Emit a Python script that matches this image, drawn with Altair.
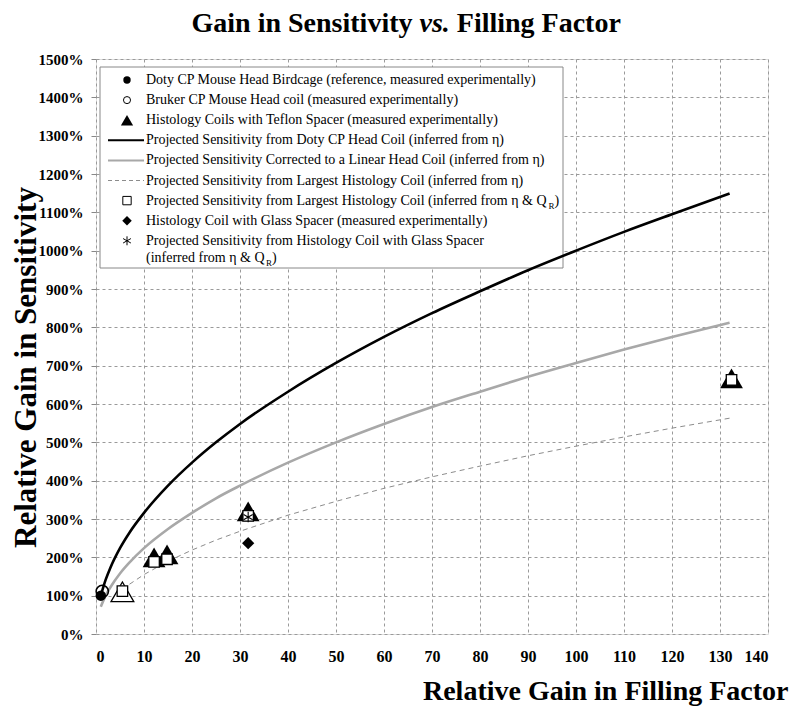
import altair as alt
import pandas as pd

# ---------------- data ----------------
curve_x = [1, 2, 3, 5, 7, 10, 15, 20, 25, 30, 40, 50, 60, 70, 80, 90, 100, 110, 120, 132]
doty_proj = [100, 141, 173, 224, 265, 316, 387, 447, 500, 548, 632, 707, 775, 837, 894, 949, 1000, 1049, 1095, 1149]
linear_proj = [71, 100, 122, 158, 187, 224, 274, 316, 354, 387, 447, 500, 548, 592, 632, 671, 707, 742, 775, 812]
hist_x = [5.5, 7, 10, 15, 20, 25, 30, 40, 50, 60, 70, 80, 90, 100, 110, 120, 132]
hist_proj = [115, 130, 155, 190, 219, 245, 268, 310, 346, 380, 410, 438, 465, 490, 514, 537, 563]

doty_x = [1.0]
doty_y = [100]
bruker_x = [1.3]
bruker_y = [111]
teflon_x = [12.1, 14.8, 31.7, 132.4]
teflon_y = [200, 208, 320, 667]
teflon_ref_x = [5.5]
teflon_ref_y = [110]
square_x = [5.5, 12.1, 14.8, 31.7, 132.4]
square_y = [112, 188, 195, 308, 663]
glass_x = [31.7]
glass_y = [237]
glass_proj_x = [31.7]
glass_proj_y = [305]

x_ticks = list(range(0, 141, 10))
y_ticks = list(range(0, 1501, 100))

legend_labels = [
    "Doty CP Mouse Head Birdcage (reference, measured experimentally)",
    "Bruker CP Mouse Head coil (measured experimentally)",
    "Histology Coils with Teflon Spacer (measured experimentally)",
    "Projected Sensitivity from Doty CP Head Coil (inferred from \u03b7)",
    "Projected Sensitivity Corrected to a Linear Head Coil (inferred from \u03b7)",
    "Projected Sensitivity from Largest Histology Coil (inferred from \u03b7)",
    "Projected Sensitivity from Largest Histology Coil (inferred from \u03b7 & Q",
    "Histology Coil with Glass Spacer (measured experimentally)",
    "Projected Sensitivity from Histology Coil with Glass Spacer",
]
legend_extra = "(inferred from \u03b7 & Q"

# ---------------- styling ----------------
SERIF = "Liberation Serif"
W, H = 672, 575
ASTERISK = "M0,-1L0,1M-0.87,-0.5L0.87,0.5M-0.87,0.5L0.87,-0.5"

def X():
    return alt.X("x:Q", scale=alt.Scale(domain=[0, 140], nice=False, zero=False),
                 axis=alt.Axis(values=x_ticks, title="Relative Gain in Filling Factor",
                               labelFont=SERIF, labelFontWeight="bold", labelFontSize=16,
                               labelColor="black", labelPadding=14, tickSize=0,
                               grid=True, gridColor="#9a9a9a", gridDash=[3, 3], domain=False,
                               titleFont=SERIF, titleFontSize=28, titleFontWeight="bold",
                               titleColor="black", titleX=692, titleY=65, titleAlign="right",
                               titleBaseline="alphabetic"))

def Y():
    return alt.Y("y:Q", scale=alt.Scale(domain=[0, 1500], nice=False),
                 axis=alt.Axis(values=y_ticks, labelExpr="datum.value + '%'",
                               title="Relative Gain in Sensitivity",
                               labelFont=SERIF, labelFontWeight="bold", labelFontSize=15,
                               labelColor="black", labelPadding=8, tickSize=5, tickColor="#888",
                               grid=True, gridColor="#9a9a9a", gridDash=[3, 3], domain=False,
                               titleFont=SERIF, titleFontSize=31, titleFontWeight="bold",
                               titleColor="black", titleAngle=270, titleX=-70, titleY=308,
                               titleAlign="center", titleBaseline="middle"))

def df(xs, ys):
    return pd.DataFrame({"x": xs, "y": ys})

one = pd.DataFrame({"k": [0]})

layers = []

# legend box (under curves, above grid)
layers.append(alt.Chart(one).mark_rect(fill="white", stroke="#888", strokeWidth=1).encode(
    x=alt.value(4), x2=alt.value(467), y=alt.value(8), y2=alt.value(209)))

# curves
layers.append(alt.Chart(df(hist_x, hist_proj)).mark_line(color="#8c8c8c", strokeWidth=1,
              strokeDash=[5, 4]).encode(x=X(), y=Y()))
layers.append(alt.Chart(df(curve_x, linear_proj)).mark_line(color="#a8a8a8", strokeWidth=2.6,
              interpolate="monotone").encode(x=X(), y=Y()))
layers.append(alt.Chart(df(curve_x, doty_proj)).mark_line(color="black", strokeWidth=2.6,
              interpolate="monotone").encode(x=X(), y=Y()))

# points
layers.append(alt.Chart(df(doty_x, doty_y)).mark_point(shape="circle", filled=True, fill="black",
              size=110, opacity=1).encode(x=X(), y=Y()))
layers.append(alt.Chart(df(bruker_x, bruker_y)).mark_point(shape="circle", filled=False, stroke="black",
              strokeWidth=1.5, size=150, opacity=1).encode(x=X(), y=Y()))
layers.append(alt.Chart(df(teflon_ref_x, teflon_ref_y)).mark_point(shape="triangle-up", filled=True,
              fill="white", stroke="black", strokeWidth=1.3, size=520, opacity=1).encode(x=X(), y=Y()))
layers.append(alt.Chart(df(teflon_x, teflon_y)).mark_point(shape="triangle-up", filled=True,
              fill="black", size=520, opacity=1).encode(x=X(), y=Y()))
layers.append(alt.Chart(df(square_x, square_y)).mark_point(shape="square", filled=True, fill="white",
              stroke="black", strokeWidth=1.3, size=110, opacity=1).encode(x=X(), y=Y()))
layers.append(alt.Chart(df(glass_x, glass_y)).mark_point(shape="diamond", filled=True, fill="black",
              size=150, opacity=1).encode(x=X(), y=Y()))
layers.append(alt.Chart(df(glass_proj_x, glass_proj_y)).mark_point(shape=ASTERISK, filled=False,
              stroke="black", strokeWidth=1.1, size=110, opacity=1).encode(x=X(), y=Y()))

# ---------------- legend contents ----------------
ROW0, ROWSTEP = 21, 20.1
SYM_X, TXT_X = 31, 50

def ly(i):
    return ROW0 + i * ROWSTEP

def txt(text, x, y, size=14, **kw):
    return alt.Chart(one).mark_text(text=text, align="left", baseline="middle", font=SERIF,
                                    fontSize=size, color="black", **kw).encode(
        x=alt.value(x), y=alt.value(y))

def sym(i, **kw):
    return alt.Chart(one).mark_point(opacity=1, **kw).encode(x=alt.value(SYM_X), y=alt.value(ly(i)))

def seg(i, **kw):
    return alt.Chart(one).mark_rule(**kw).encode(x=alt.value(12), x2=alt.value(48), y=alt.value(ly(i)))

layers.append(sym(0, shape="circle", filled=True, fill="black", size=55))
layers.append(sym(1, shape="circle", filled=False, stroke="black", strokeWidth=1, size=50))
layers.append(sym(2, shape="triangle-up", filled=True, fill="black", size=150))
layers.append(seg(3, color="black", strokeWidth=2))
layers.append(seg(4, color="#a8a8a8", strokeWidth=2))
layers.append(seg(5, color="#8c8c8c", strokeWidth=1, strokeDash=[4, 3]))
layers.append(sym(6, shape="square", filled=False, stroke="black", strokeWidth=1, size=70))
layers.append(sym(7, shape="diamond", filled=True, fill="black", size=90))
layers.append(sym(8, shape=ASTERISK, filled=False, stroke="black", strokeWidth=1, size=80))

for i, lab in enumerate(legend_labels):
    layers.append(txt(lab, TXT_X, ly(i)))
# subscripts R and closing parentheses
layers.append(txt("R", 452.5, ly(6) + 5, size=9))
layers.append(txt(")", 458.5, ly(6)))
second = ly(8) + 17
layers.append(txt(legend_extra, TXT_X, second))
layers.append(txt("R", 170, second + 5, size=9))
layers.append(txt(")", 176, second))

# ---------------- title (with italic "vs.") ----------------
TY = -27
layers.append(alt.Chart(one).mark_text(text="Gain in Sensitivity", align="right", baseline="alphabetic",
              font=SERIF, fontSize=28, fontWeight="bold", color="black").encode(
              x=alt.value(316.5), y=alt.value(TY)))
layers.append(alt.Chart(one).mark_text(text="vs.", align="left", baseline="alphabetic",
              font=SERIF, fontSize=28, fontWeight="bold", fontStyle="italic", color="black").encode(
              x=alt.value(323.5), y=alt.value(TY)))
layers.append(alt.Chart(one).mark_text(text="Filling Factor", align="left", baseline="alphabetic",
              font=SERIF, fontSize=28, fontWeight="bold", color="black").encode(
              x=alt.value(360.8), y=alt.value(TY)))

chart = alt.layer(*layers).properties(
    width=W, height=H,
    padding={"left": 88, "top": 51, "right": 24, "bottom": 74},
    autosize=alt.AutoSizeParams(type="none"),
).configure_view(stroke="#888", strokeWidth=1).configure(background="white")

chart.save("out.html", embed_options={"renderer": "svg", "actions": False})
